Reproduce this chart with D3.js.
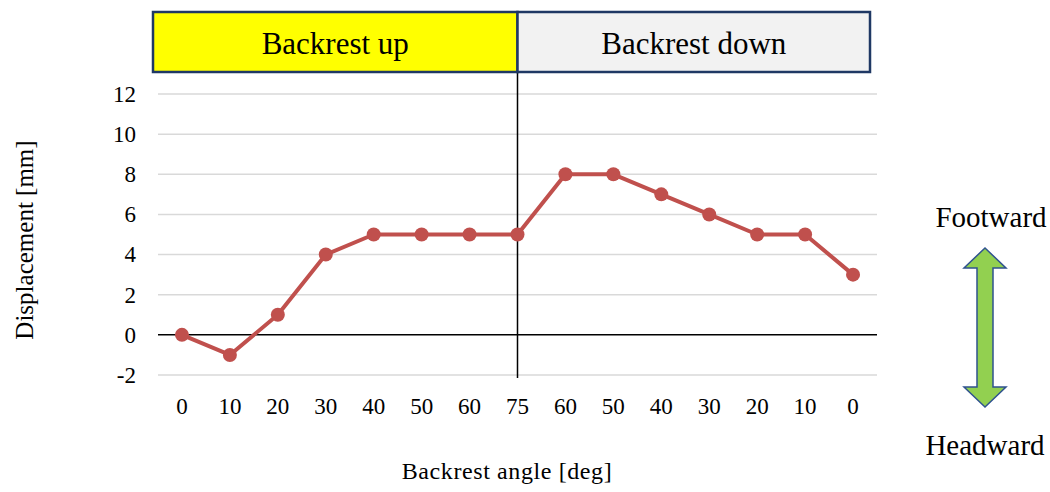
<!DOCTYPE html>
<html>
<head>
<meta charset="utf-8">
<script src="https://cdn.jsdelivr.net/npm/d3@7/dist/d3.min.js"></script>
<style>
  html, body { margin: 0; padding: 0; background: #fff; }
  svg { display: block; font-family: "Liberation Serif", "Times New Roman", serif; }
</style>
</head>
<body>
<svg id="chart" width="1050" height="492"></svg>
<script>
// Backrest angle sequence: raised from 0 to 75 deg, then lowered back to 0
const angleLabels = ["0", "10", "20", "30", "40", "50", "60", "75", "60", "50", "40", "30", "20", "10", "0"];
const displacement = [0, -1, 1, 4, 5, 5, 5, 5, 8, 8, 7, 6, 5, 5, 3];
const yTicks = [-2, 0, 2, 4, 6, 8, 10, 12];
const phases = ["Backrest up", "Backrest down"];
const phaseColors = ["#ffff00", "#f2f2f2"];

const svg = d3.select("#chart");
const keys = angleLabels.map((d, i) => i);

const x = d3.scaleBand().domain(keys).range([158, 877]);
const y = d3.scaleLinear().domain([-2, 12]).range([375, 94]);
const cx = i => x(i) + x.bandwidth() / 2;

// horizontal gridlines
svg.append("g")
  .selectAll("line")
  .data(yTicks.filter(t => t !== 0))
  .join("line")
  .attr("x1", 158).attr("x2", 877)
  .attr("y1", d => y(d)).attr("y2", d => y(d))
  .attr("stroke", "#d9d9d9").attr("stroke-width", 1.5);

// zero line
svg.append("line")
  .attr("x1", 158).attr("x2", 877)
  .attr("y1", y(0)).attr("y2", y(0))
  .attr("stroke", "#000").attr("stroke-width", 1.5);

// y axis labels (plain hyphen for negatives)
const yAxis = d3.axisLeft(y).tickValues(yTicks).tickFormat(d => String(d)).tickSize(0).tickPadding(0);
const gy = svg.append("g").attr("transform", "translate(136,0)").call(yAxis);
gy.select(".domain").remove();
gy.selectAll("text")
  .attr("font-family", "Liberation Serif, Times New Roman, serif")
  .attr("font-size", 23).attr("fill", "#000");

// x axis labels
const xAxis = d3.axisBottom(x).tickFormat(i => angleLabels[i]).tickSize(0).tickPadding(0);
const gx = svg.append("g").attr("transform", "translate(0,398)").call(xAxis);
gx.select(".domain").remove();
gx.selectAll("text")
  .attr("font-family", "Liberation Serif, Times New Roman, serif")
  .attr("font-size", 23).attr("fill", "#000");

// phase separator at 75 deg
const splitX = cx(7);
svg.append("line")
  .attr("x1", splitX).attr("x2", splitX)
  .attr("y1", 72).attr("y2", 378)
  .attr("stroke", "#000").attr("stroke-width", 1.5);

// phase header boxes
const boxes = [[153, splitX], [splitX, 870]];
boxes.forEach((b, i) => {
  svg.append("rect")
    .attr("x", b[0]).attr("y", 12)
    .attr("width", b[1] - b[0]).attr("height", 60)
    .attr("fill", phaseColors[i])
    .attr("stroke", "#1f3864").attr("stroke-width", 2.5);
  svg.append("text")
    .attr("x", (b[0] + b[1]) / 2).attr("y", 43)
    .attr("text-anchor", "middle").attr("dominant-baseline", "central")
    .attr("font-size", 31).attr("fill", "#000")
    .text(phases[i]);
});

// displacement series
const line = d3.line().x((d, i) => cx(i)).y(d => y(d));
svg.append("path")
  .datum(displacement)
  .attr("d", line)
  .attr("fill", "none")
  .attr("stroke", "#c0504d").attr("stroke-width", 4)
  .attr("stroke-linejoin", "round");

svg.append("g")
  .selectAll("circle")
  .data(displacement)
  .join("circle")
  .attr("cx", (d, i) => cx(i)).attr("cy", d => y(d))
  .attr("r", 7)
  .attr("fill", "#c0504d");

// axis titles
svg.append("text")
  .attr("x", 507).attr("y", 471)
  .attr("text-anchor", "middle").attr("dominant-baseline", "central")
  .attr("font-size", 24).attr("letter-spacing", 0.6).text("Backrest angle [deg]");

svg.append("text")
  .attr("transform", "translate(24,240) rotate(-90)")
  .attr("text-anchor", "middle").attr("dominant-baseline", "central")
  .attr("font-size", 25).text("Displacement [mm]");

// direction indicator
const arrowX = 985, arrowTop = 248, arrowBot = 407, shaft = 8, head = 21, headH = 20;
const arrow = [
  [arrowX, arrowTop], [arrowX + head, arrowTop + headH], [arrowX + shaft, arrowTop + headH],
  [arrowX + shaft, arrowBot - headH], [arrowX + head, arrowBot - headH], [arrowX, arrowBot],
  [arrowX - head, arrowBot - headH], [arrowX - shaft, arrowBot - headH], [arrowX - shaft, arrowTop + headH],
  [arrowX - head, arrowTop + headH]
];
svg.append("polygon")
  .attr("points", arrow.map(p => p.join(",")).join(" "))
  .attr("fill", "#92d050").attr("stroke", "#2f528f").attr("stroke-width", 1.5);

svg.append("text")
  .attr("x", 991).attr("y", 217)
  .attr("text-anchor", "middle").attr("dominant-baseline", "central")
  .attr("font-size", 29).text("Footward");
svg.append("text")
  .attr("x", 985).attr("y", 445)
  .attr("text-anchor", "middle").attr("dominant-baseline", "central")
  .attr("font-size", 29).text("Headward");
</script>
</body>
</html>
